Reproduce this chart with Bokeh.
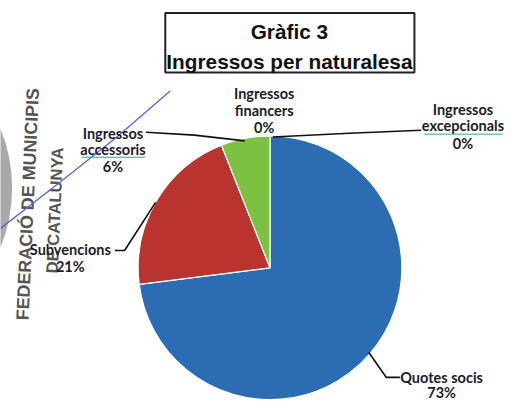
import math
from bokeh.plotting import figure
from bokeh.models import Range1d
from bokeh.embed import file_html
from bokeh.resources import INLINE
from bokeh.core.properties import value

# ---- data ----
categories = ["Quotes socis", "Subvencions", "Ingressos accessoris",
              "Ingressos financers", "Ingressos excepcionals"]
shares = [73.0, 21.0, 6.0, 0.0, 0.0]
pct_labels = ["73%", "21%", "6%", "0%", "0%"]
colors = ["#2b6cb3", "#b9342f", "#7cc142", "#8064a2", "#4bacc6"]
title_lines = ["Gràfic 3", "Ingressos per naturalesa"]

REF_W, REF_H = 523, 416
W, H = 507, 400
S = W / REF_W  # screen px per reference px


def Y(py):
    return REF_H - py


def fs(px):
    return f"{px * S:.1f}px"


p = figure(width=W, height=H, output_backend="svg", toolbar_location=None,
           x_range=Range1d(0, REF_W), y_range=Range1d(0, REF_H),
           min_border=0)
p.axis.visible = False
p.grid.visible = False
p.outline_line_color = None
p.background_fill_color = "white"

# ---- scanned stamp (background) ----
p.annulus(x=[-150], y=[Y(195)], inner_radius=146, outer_radius=162,
          fill_color="#8c8c8c", fill_alpha=0.75, line_color=None)
tilt = math.pi / 2 - 0.045
p.text(x=[33], y=[Y(333)], text=["FEDERACIÓ DE MUNICIPIS"], angle=tilt,
       text_font=value("Liberation Sans"), text_font_size=fs(18.5),
       text_font_style="bold", text_color="#555555",
       text_baseline="bottom", text_align="left")
p.text(x=[62], y=[Y(284)], text=["DE CATALUNYA"], angle=tilt,
       text_font=value("Liberation Sans"), text_font_size=fs(17),
       text_font_style="bold", text_color="#555555",
       text_baseline="bottom", text_align="left")
p.line(x=[0, 60, 120, 175], y=[Y(237), Y(190), Y(142), Y(94)],
       line_color="#5566d8", line_width=1.3)

# ---- pie ----
cx, cy, R = 278, Y(278), 136
total = sum(shares)
starts, ends = [], []
acc = 0.0
for v in shares:
    starts.append(math.pi / 2 - 2 * math.pi * acc / total)
    acc += v
    ends.append(math.pi / 2 - 2 * math.pi * acc / total)
for s, e, c, v in zip(starts, ends, colors, shares):
    if v > 0:
        p.wedge(x=cx, y=cy, radius=R, start_angle=s, end_angle=e,
                direction="clock", fill_color=c, line_color="white",
                line_width=1.2)

# ---- leader lines ----
lead = "#111111"
p.line(x=[380, 398, 412], y=[Y(366), Y(392), Y(392)], line_color=lead, line_width=1.6)
p.line(x=[160, 128, 118], y=[Y(210), Y(260), Y(260)], line_color=lead, line_width=1.6)
p.line(x=[252, 200, 150], y=[Y(146), Y(140), Y(137)], line_color=lead, line_width=1.6)
p.line(x=[281, 360, 434], y=[Y(142), Y(138), Y(135)], line_color=lead, line_width=1.6)

# ---- data labels ----
lab_font = value("Lato")
lab_col = "#1b1b2b"


def label(x, py_lines, lines, size=15):
    p.text(x=[x] * len(lines), y=[Y(py) for py in py_lines], text=lines,
           text_font=lab_font, text_font_size=fs(size), text_font_style="bold",
           text_color=lab_col, text_align="center", text_baseline="middle")


label(272, [97, 114, 132], ["Ingressos", "financers", pct_labels[3]])
label(477, [113, 130, 149], ["Ingressos", "excepcionals", pct_labels[4]])
label(116, [138, 155, 173], ["Ingressos", "accessoris", pct_labels[2]])
label(72, [259, 277], [categories[1], pct_labels[1]])
label(455, [392, 408], [categories[0], pct_labels[0]])

# spell-check underlines from the scan
p.line(x=[84, 149], y=[Y(163), Y(163)], line_color="#2aa88a", line_width=1)
p.line(x=[437, 518], y=[Y(139), Y(139)], line_color="#2aa88a", line_width=1)

# ---- title box ----
p.quad(left=[170], right=[427], top=[Y(13)], bottom=[Y(75)],
       fill_color="white", line_color="#222222", line_width=2)
p.text(x=[298, 298], y=[Y(32), Y(63)], text=title_lines,
       text_font=value("Liberation Sans"), text_font_size=fs(21.5),
       text_font_style="bold", text_color="#111111",
       text_align="center", text_baseline="middle")

open("out.html", "w").write(file_html(p, INLINE))
